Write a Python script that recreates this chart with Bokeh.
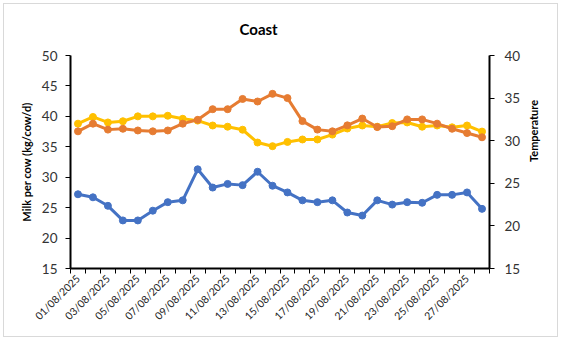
from bokeh.plotting import figure
from bokeh.models import Range1d, LinearAxis, FixedTicker
from bokeh.embed import file_html
from bokeh.resources import INLINE

dates = ["%02d/08/2025" % d for d in range(1, 29)]
label_every = 2

milk_per_cow = [27.2, 26.7, 25.3, 22.9, 22.9, 24.5, 25.9, 26.2, 31.3, 28.3, 28.9, 28.7, 30.9, 28.6,
                27.5, 26.2, 25.9, 26.2, 24.2, 23.7, 26.2, 25.5, 25.9, 25.8, 27.1, 27.1, 27.5, 24.8]
milk_per_cow_b = [38.8, 39.9, 39.0, 39.2, 40.0, 40.0, 40.1, 39.6, 39.3, 38.5, 38.3, 37.8, 35.7, 35.1,
                  35.8, 36.2, 36.2, 37.0, 38.0, 38.5, 38.3, 38.9, 39.0, 38.3, 38.5, 38.2, 38.5, 37.5]
temperature = [31.1, 32.0, 31.3, 31.4, 31.2, 31.1, 31.2, 32.0, 32.45, 33.7, 33.7, 34.9, 34.6, 35.5,
               35.0, 32.3, 31.3, 31.1, 31.8, 32.6, 31.6, 31.7, 32.5, 32.5, 32.0, 31.4, 30.9, 30.4]

left_ticks = [15, 20, 25, 30, 35, 40, 45, 50]
right_ticks = [15, 20, 25, 30, 35, 40]

title_text = "Coast"
left_title = "Milk per cow (kg/cow/d)"
right_title = "Temperature"

FONT = "Lato"
BLUE = "#4472C4"
ORANGE = "#E67C32"
YELLOW = "#FFC000"

n = len(dates)
x = list(range(n))

p = figure(width=561, height=340, output_backend="svg", toolbar_location=None,
           x_range=Range1d(-0.5, n - 0.5), y_range=Range1d(left_ticks[0], left_ticks[-1]),
           min_border_left=70, min_border_right=72, min_border_top=55, min_border_bottom=72)
p.extra_y_ranges = {"temp": Range1d(right_ticks[0], right_ticks[-1])}
p.styles = {"background": "white",
            "box-shadow": "inset 0 0 0 3px white, inset 0 0 0 4px #D9D9D9"}
p.outline_line_color = None
p.xgrid.visible = False
p.ygrid.visible = False
p.background_fill_color = "white"
p.border_fill_color = None
p.border_fill_alpha = 0

# title
p.title.text = title_text
p.title.align = "left"
p.title.offset = 169
p.title.standoff = 35
p.title.text_font = FONT
p.title.text_font_size = "15px"
p.title.text_font_style = "bold"
p.title.text_color = "black"

# x axis
xa = p.xaxis[0]
xa.ticker = FixedTicker(ticks=list(range(0, n - 1, label_every)),
                        minor_ticks=[i - 0.5 for i in range(n + 1)])
xa.major_label_overrides = {i: dates[i] for i in range(0, n, label_every)}
xa.major_label_orientation = 0.785398
xa.major_tick_out = 0
xa.major_tick_in = 0
xa.minor_tick_out = 5
xa.minor_tick_in = 0
xa.minor_tick_line_color = "black"
xa.axis_line_color = "black"
xa.axis_line_width = 2
xa.major_label_text_font = FONT
xa.major_label_text_font_size = "10.5px"
xa.major_label_text_color = "#222222"
xa.major_label_standoff = 3

# left axis
ya = p.yaxis[0]
ya.ticker = FixedTicker(ticks=left_ticks)
ya.major_tick_out = 5
ya.major_tick_in = 0
ya.minor_tick_out = 0
ya.minor_tick_in = 0
ya.axis_line_color = "black"
ya.axis_line_width = 2
ya.major_tick_line_color = "black"
ya.major_label_text_font = FONT
ya.major_label_text_font_size = "13.5px"
ya.major_label_text_color = "#333333"
ya.major_label_standoff = 8
ya.axis_label = left_title
ya.axis_label_text_font = FONT
ya.axis_label_text_font_size = "11px"
ya.axis_label_text_font_style = "bold"
ya.axis_label_text_color = "black"
ya.axis_label_standoff = 6

# right axis
ra = LinearAxis(y_range_name="temp", ticker=FixedTicker(ticks=right_ticks))
ra.major_tick_out = 5
ra.major_tick_in = 0
ra.minor_tick_out = 0
ra.minor_tick_in = 0
ra.axis_line_color = "black"
ra.axis_line_width = 2
ra.major_label_text_font = FONT
ra.major_label_text_font_size = "13.5px"
ra.major_label_text_color = "#333333"
ra.major_label_standoff = 10
ra.axis_label = right_title
ra.axis_label_text_font = FONT
ra.axis_label_text_font_size = "11px"
ra.axis_label_text_font_style = "bold"
ra.axis_label_text_color = "black"
ra.axis_label_standoff = 10
if "axis_label_orientation" in ra.properties():
    ra.axis_label_orientation = 1.5708
p.add_layout(ra, "right")

# series
p.line(x, milk_per_cow, line_color=BLUE, line_width=3)
p.scatter(x, milk_per_cow, size=7, fill_color=BLUE, line_color=BLUE)
p.line(x, milk_per_cow_b, line_color=YELLOW, line_width=3)
p.scatter(x, milk_per_cow_b, size=7, fill_color=YELLOW, line_color=YELLOW)
p.line(x, temperature, line_color=ORANGE, line_width=3, y_range_name="temp")
p.scatter(x, temperature, size=7, fill_color=ORANGE, line_color=ORANGE, y_range_name="temp")

open("out.html", "w").write(file_html(p, INLINE))
